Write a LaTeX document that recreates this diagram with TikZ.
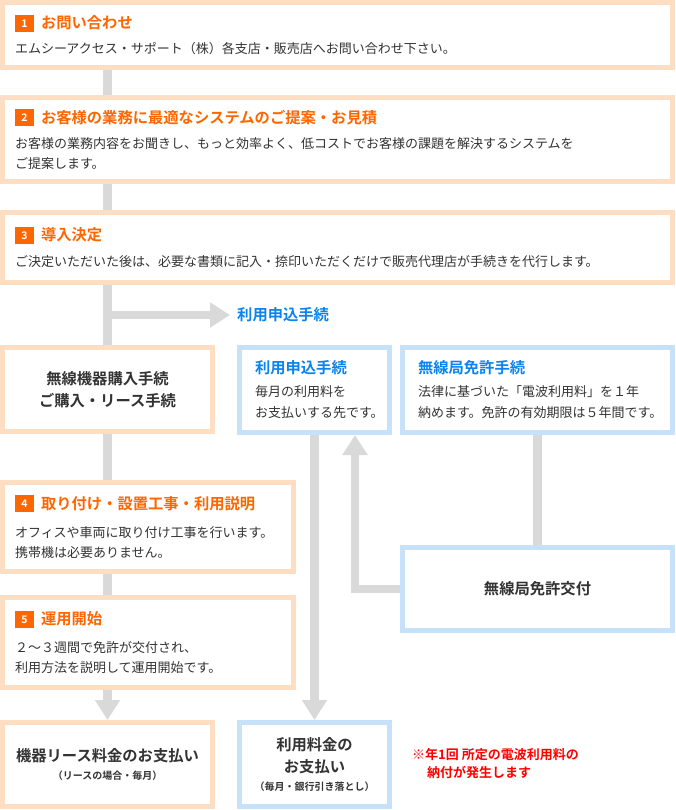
\documentclass[tikz,border=0pt]{standalone}
\usepackage{fontspec}
\setmainfont{Noto Sans CJK JP}[BoldFont={Noto Sans CJK JP Bold}]
\usepackage{tikz}
\usetikzlibrary{arrows.meta,positioning}
\usepackage{xcolor}
\definecolor{peach}{HTML}{FDDEC3}
\definecolor{sky}{HTML}{C6E2FA}
\definecolor{flowgray}{HTML}{D9D9D9}
\definecolor{stepor}{HTML}{FF6600}
\definecolor{skytext}{HTML}{0A84F0}
\definecolor{txtdark}{HTML}{333333}
\definecolor{notered}{HTML}{FF0000}

\newcommand{\stepno}[1]{\raisebox{-3pt}{\setlength{\fboxsep}{0pt}\colorbox{stepor}{\parbox[b][17pt][c]{19pt}{\centering\fontsize{10.5}{10.5}\selectfont\bfseries\color{white}#1}}}}
\newcommand{\steptitle}[1]{{\fontsize{15.3}{20}\selectfont\bfseries\color{stepor}#1}}
\newcommand{\skytitle}[1]{{\fontsize{15.3}{20}\selectfont\bfseries\color{skytext}#1}}

\begin{document}
\begin{tikzpicture}[x=1pt, y=-1pt,
		every node/.style={inner ysep=0pt, text=txtdark},
		stepbox/.style={draw=peach, line width=5pt, fill=white, align=left, inner xsep=12.5pt, font=\fontsize{13}{20}\selectfont},
		skybox/.style={draw=sky, line width=5pt, fill=white, align=left, inner xsep=15.5pt, font=\fontsize{13}{21.5}\selectfont},
		midbox/.style={draw=peach, line width=5pt, fill=white, align=center, font=\fontsize{15.3}{22}\selectfont\bfseries},
		flow/.style={draw=flowgray, line width=8.5pt},
		flowarrow/.style={flow, -{Triangle[width=24pt,length=20pt]}}]
	\useasboundingbox[fill=white] (0,0) rectangle (675,810);
	% left column
	\node[stepbox, text width=645pt, minimum height=65pt] (step1) at (337.5,35)
		{\stepno{1}\hspace{7pt}\steptitle{お問い合わせ}\\[5pt]
		エムシーアクセス・サポート（株）各支店・販売店へお問い合わせ下さい。};
	\node[stepbox, text width=645pt, minimum height=84pt] (step2) at (337.5,139.5)
		{\stepno{2}\hspace{7pt}\steptitle{お客様の業務に最適なシステムのご提案・お見積}\\[5pt]
		お客様の業務内容をお聞きし、もっと効率よく、低コストでお客様の課題を解決するシステムを\\
		ご提案します。};
	\node[stepbox, text width=645pt, minimum height=70pt] (step3) at (337.5,247.5)
		{\stepno{3}\hspace{7pt}\steptitle{導入決定}\\[6pt]
		ご決定いただいた後は、必要な書類に記入・捺印いただくだけで販売代理店が手続きを代行します。};
	\node[midbox, minimum width=210pt, minimum height=84pt] (buy) at (107.5,389.5)
		{無線機器購入手続\\ご購入・リース手続};
	\node[stepbox, text width=266pt, minimum height=89pt] (step4) at (148,527)
		{\stepno{4}\hspace{7pt}\steptitle{取り付け・設置工事・利用説明}\\[8pt]
		オフィスや車両に取り付け工事を行います。\\
		携帯機は必要ありません。};
	\node[stepbox, text width=266pt, minimum height=90pt] (step5) at (148,642.5)
		{\stepno{5}\hspace{7pt}\steptitle{運用開始}\\[8pt]
		２～３週間で免許が交付され、\\
		利用方法を説明して運用開始です。};
	\node[midbox, minimum width=210pt, minimum height=84pt] (lease) at (107.5,764.5)
		{機器リース料金のお支払い\\[-4pt]{\fontsize{10}{18}\selectfont（リースの場合・毎月）}};
	% right side
	\node[skybox, text width=119pt, minimum height=85pt] (apply) at (314.5,390)
		{\skytitle{利用申込手続}\\[1pt]
		毎月の利用料を\\
		お支払いする先です。};
	\node[skybox, text width=239pt, minimum height=85pt] (license) at (537.5,390)
		{\skytitle{無線局免許手続}\\[1pt]
		法律に基づいた「電波利用料」を１年\\
		納めます。免許の有効期限は５年間です。};
	\node[midbox, draw=sky, minimum width=270pt, minimum height=83pt] (issue) at (537.5,589)
		{無線局免許交付};
	\node[midbox, draw=sky, minimum width=150pt, minimum height=84pt] (fee) at (314.5,764.5)
		{利用料金の\\お支払い\\[-4pt]{\fontsize{10}{18}\selectfont（毎月・銀行引き落とし）}};
	\node[anchor=west, inner xsep=7pt, text=skytext, font=\fontsize{15.3}{18}\selectfont\bfseries] (applylabel) at (230,315)
		{利用申込手続};
	\node[anchor=north west, inner sep=0pt, align=left, text=notered, font=\fontsize{13}{18}\selectfont\bfseries] (note) at (412,748.5)
		{※年1回 所定の電波利用料の\\\hspace{15pt}納付が発生します};
	% connectors
	\coordinate (branch) at (107.5,315);
	\draw[flow] (step1.south -| buy.north) -- (step2.north -| buy.north);
	\draw[flow] (step2.south -| buy.north) -- (step3.north -| buy.north);
	\draw[flow] (step3.south -| buy.north) -- (buy.north);
	\draw[flowarrow] (branch) -- (applylabel.west);
	\draw[flow] (buy.south) -- (buy.south |- step4.north);
	\draw[flow] (step4.south -| buy.south) -- (step5.north -| buy.south);
	\draw[flowarrow] (step5.south -| lease.north) -- (lease.north);
	\draw[flowarrow] (apply.south) -- (fee.north);
	\draw[flow] (license.south) -- (issue.north);
	\draw[flowarrow] (issue.west) -| ([xshift=40.5pt]apply.south);
\end{tikzpicture}
\end{document}
